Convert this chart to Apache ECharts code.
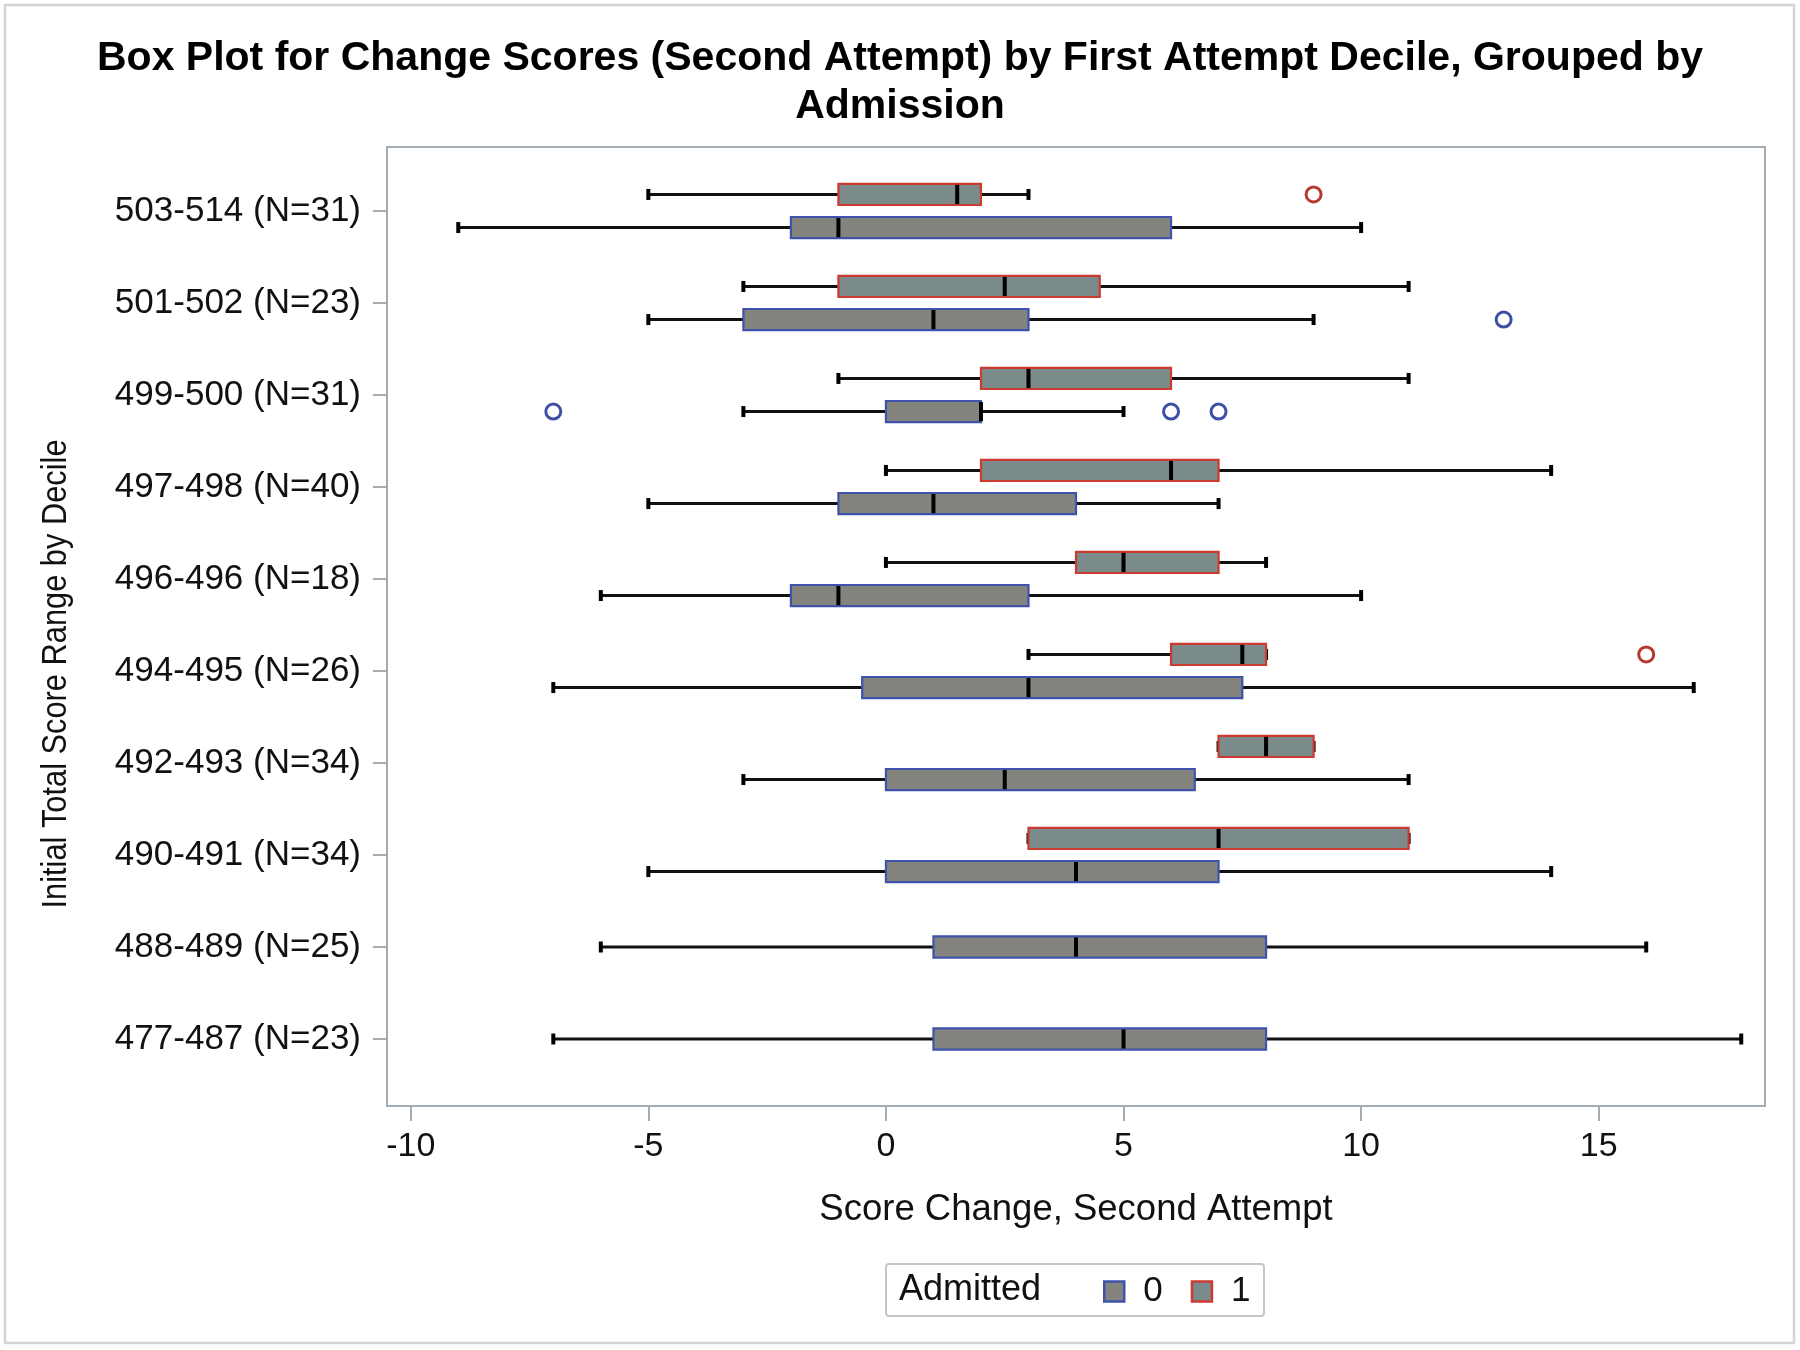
<!DOCTYPE html>
<html><head><meta charset="utf-8">
<script src="https://cdn.jsdelivr.net/npm/echarts@6/dist/echarts.min.js"></script>
<style>html,body{margin:0;padding:0;background:#fff}#c{width:1800px;height:1350px}</style>
</head><body><div id="c"></div>
<script>
// ---------- data ----------
const categories = ['503-514 (N=31)','501-502 (N=23)','499-500 (N=31)','497-498 (N=40)','496-496 (N=18)',
                    '494-495 (N=26)','492-493 (N=34)','490-491 (N=34)','488-489 (N=25)','477-487 (N=23)'];
// [whiskerLow, Q1, median, Q3, whiskerHigh] per category; null = group absent
const admitted0Box = [
  [-9, -2, -1, 6, 10],
  [-5, -3, 1, 3, 9],
  [-3, 0, 2, 2, 5],
  [-5, -1, 1, 4, 7],
  [-6, -2, -1, 3, 10],
  [-7, -0.5, 3, 7.5, 17],
  [-3, 0, 2.5, 6.5, 11],
  [-5, 0, 4, 7, 14],
  [-6, 1, 4, 8, 16],
  [-7, 1, 5, 8, 18]
];
const admitted1Box = [
  [-5, -1, 1.5, 2, 3],
  [-3, -1, 2.5, 4.5, 11],
  [-1, 2, 3, 6, 11],
  [0, 2, 6, 7, 14],
  [0, 4, 5, 7, 8],
  [3, 6, 7.5, 8, 8],
  [7, 7, 8, 9, 9],
  [3, 3, 7, 11, 11],
  null,
  null
];
// outliers: [categoryIndex, value]
const admitted0Outliers = [[1, 13], [2, -7], [2, 6], [2, 7]];
const admitted1Outliers = [[0, 9], [5, 16]];
const xTicks = [-10, -5, 0, 5, 10, 15];
const groupNames = ['0', '1'];

// ---------- styles ----------
const FONT = '"Liberation Sans", Arial, sans-serif';
const AXIS_GRAY = '#a4acb4';
const fill0 = '#85837d', fill1 = '#7b8a8a';
const line0 = '#3f53ad', line1 = '#cc3a30';
const out0 = '#3d50a6', out1 = '#b53b30';

function hasBoth(i) { return admitted0Box[i] != null && admitted1Box[i] != null; }

function boxData(arr) {
  const d = [];
  arr.forEach((b, i) => { if (b) d.push([i, b[0], b[1], b[2], b[3], b[4], hasBoth(i) ? 1 : 0]); });
  return d;
}
function outData(arr) { return arr.map(o => [o[0], o[1], hasBoth(o[0]) ? 1 : 0]); }

function boxRender(sign, fill, stroke) {
  return function (params, api) {
    const ci = api.value(0);
    const band = api.size([0, 1])[1];
    const yc = api.coord([0, ci])[1] + (api.value(6) ? sign * band * 0.18 : 0);
    const h = band * 0.115;
    const x = k => api.coord([api.value(k), ci])[0];
    const xLo = x(1), xQ1 = x(2), xMed = x(3), xQ3 = x(4), xHi = x(5);
    const capH = 5.5;
    return {
      type: 'group',
      children: [
        { type: 'line', shape: { x1: xLo, y1: yc, x2: xHi, y2: yc }, style: { stroke: '#111', lineWidth: 3 } },
        { type: 'line', shape: { x1: xLo, y1: yc - capH, x2: xLo, y2: yc + capH }, style: { stroke: '#000', lineWidth: 4 } },
        { type: 'line', shape: { x1: xHi, y1: yc - capH, x2: xHi, y2: yc + capH }, style: { stroke: '#000', lineWidth: 4 } },
        { type: 'rect', shape: { x: xQ1, y: yc - h, width: xQ3 - xQ1, height: 2 * h },
          style: { fill: fill, stroke: stroke, lineWidth: 2.2 } },
        { type: 'line', shape: { x1: xMed, y1: yc - h + 1, x2: xMed, y2: yc + h - 1 }, style: { stroke: '#000', lineWidth: 4 } }
      ]
    };
  };
}
function outRender(sign, color) {
  return function (params, api) {
    const ci = api.value(0);
    const band = api.size([0, 1])[1];
    const p = api.coord([api.value(1), ci]);
    const yc = p[1] + (api.value(2) ? sign * band * 0.18 : 0);
    return { type: 'circle', shape: { cx: p[0], cy: yc, r: 7.5 }, style: { fill: 'none', stroke: color, lineWidth: 3 } };
  };
}

const chart = echarts.init(document.getElementById('c'), null, { renderer: 'canvas' });
chart.setOption({
  backgroundColor: '#fff',
  animation: false,
  textStyle: { fontFamily: FONT },
  title: {
    text: 'Box Plot for Change Scores (Second Attempt) by First Attempt Decile, Grouped by\nAdmission',
    left: 'center', top: 30,
    textStyle: { fontFamily: FONT, fontSize: 41, fontWeight: 'bold', color: '#000', lineHeight: 48 }
  },
  grid: [
    { left: 387, right: 35, top: 165, bottom: 265, show: false },
    { left: 387, right: 35, top: 147, bottom: 244, show: true, borderColor: AXIS_GRAY, borderWidth: 2, backgroundColor: 'transparent' }
  ],
  xAxis: [
    {
      type: 'value', gridIndex: 0, min: -10.5, max: 18.5, offset: 21,
      name: 'Score Change, Second Attempt', nameLocation: 'middle', nameGap: 85,
      nameTextStyle: { fontFamily: FONT, fontSize: 36.5, color: '#111' },
      axisLine: { show: true, onZero: false, lineStyle: { color: AXIS_GRAY, width: 2 } },
      axisTick: { show: true, length: 15, lineStyle: { color: AXIS_GRAY, width: 2 }, customValues: xTicks },
      axisLabel: { fontFamily: FONT, fontSize: 34, color: '#111', margin: 24, customValues: xTicks },
      splitLine: { show: false }
    },
    { type: 'value', gridIndex: 1, show: false, min: 0, max: 1 }
  ],
  yAxis: [
    {
      type: 'category', gridIndex: 0, data: categories, inverse: true,
      axisLine: { show: true, onZero: false, lineStyle: { color: AXIS_GRAY, width: 2 } },
      axisTick: { show: true, alignWithLabel: true, length: 14, lineStyle: { color: AXIS_GRAY, width: 2 } },
      axisLabel: { fontFamily: FONT, fontSize: 35, color: '#111', margin: 26 },
      splitLine: { show: false }
    },
    { type: 'value', gridIndex: 1, show: false, min: 0, max: 1 }
  ],
  legend: {
    left: 1098, top: 1269,
    itemWidth: 20, itemHeight: 20, itemGap: 28,
    textStyle: { fontFamily: FONT, fontSize: 35, color: '#111', padding: [0, 0, 0, 14] },
    data: [
      { name: '0', icon: 'rect', itemStyle: { color: fill0, borderColor: line0, borderWidth: 2.5 } },
      { name: '1', icon: 'rect', itemStyle: { color: fill1, borderColor: line1, borderWidth: 2.5 } }
    ]
  },
  graphic: [
    { type: 'rect', shape: { x: 5, y: 5, width: 1789, height: 1338 }, style: { fill: 'none', stroke: '#d4d4d4', lineWidth: 2.5 }, silent: true },
    { type: 'rect', shape: { x: 886, y: 1264, width: 378, height: 52, r: 3 }, style: { fill: 'none', stroke: '#c6c6c6', lineWidth: 2 }, silent: true },
    { type: 'text', x: 899, y: 1290, style: { text: 'Admitted', font: '36px ' + FONT, fill: '#111', verticalAlign: 'middle', align: 'left' } },
    { type: 'text', x: 56, y: 674, rotation: Math.PI / 2, scaleX: 0.88,
      style: { text: 'Initial Total Score Range by Decile', font: '35px ' + FONT, fill: '#111', align: 'center', verticalAlign: 'middle' } }
  ],
  series: [
    { name: groupNames[0], type: 'custom', coordinateSystem: 'cartesian2d', xAxisIndex: 0, yAxisIndex: 0,
      itemStyle: { color: fill0, borderColor: line0 }, renderItem: boxRender(1, fill0, line0), data: boxData(admitted0Box),
      encode: { x: [1, 2, 3, 4, 5], y: 0 } },
    { name: groupNames[1], type: 'custom', coordinateSystem: 'cartesian2d', xAxisIndex: 0, yAxisIndex: 0,
      itemStyle: { color: fill1, borderColor: line1 }, renderItem: boxRender(-1, fill1, line1), data: boxData(admitted1Box),
      encode: { x: [1, 2, 3, 4, 5], y: 0 } },
    { name: groupNames[0], type: 'custom', coordinateSystem: 'cartesian2d', xAxisIndex: 0, yAxisIndex: 0,
      renderItem: outRender(1, out0), data: outData(admitted0Outliers), encode: { x: 1, y: 0 } },
    { name: groupNames[1], type: 'custom', coordinateSystem: 'cartesian2d', xAxisIndex: 0, yAxisIndex: 0,
      renderItem: outRender(-1, out1), data: outData(admitted1Outliers), encode: { x: 1, y: 0 } }
  ]
});
</script></body></html>
